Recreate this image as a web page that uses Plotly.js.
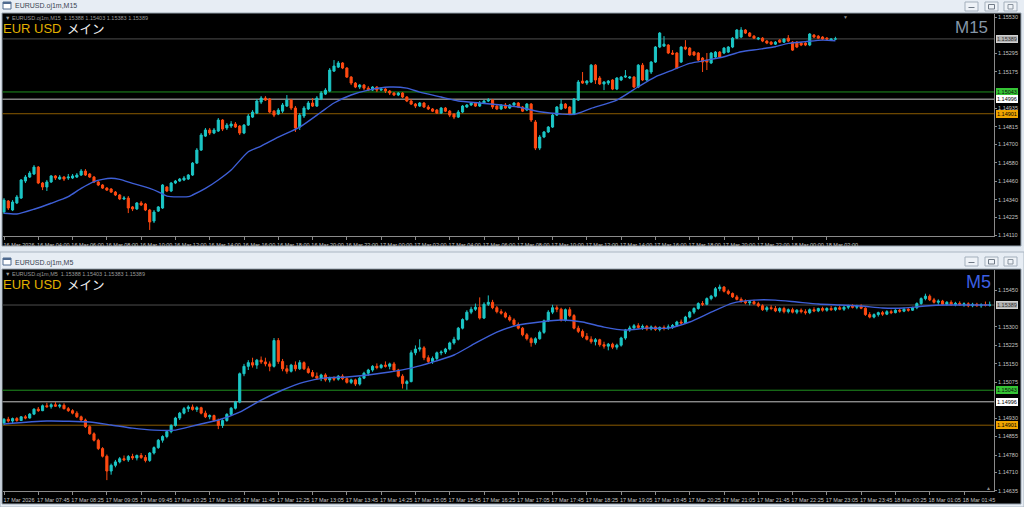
<!DOCTYPE html>
<html>
<head>
<meta charset="utf-8">
<script src="https://cdn.plot.ly/plotly-3.0.1.min.js"></script>
<style>
html,body{margin:0;padding:0;background:#e1e8f0;}
#chart{width:1024px;height:507px;}
</style>
</head>
<body>
<div id="chart"></div>
<script>
// ---------------- M15 data (16 Mar 02:00 -> 18 Mar 02:30) ----------------
const m15TickText = ["16 Mar 2026","16 Mar 04:00","16 Mar 06:00","16 Mar 08:00","16 Mar 10:00","16 Mar 12:00","16 Mar 14:00","16 Mar 16:00","16 Mar 18:00","16 Mar 20:00","16 Mar 22:00","17 Mar 00:00","17 Mar 02:00","17 Mar 04:00","17 Mar 06:00","17 Mar 08:00","17 Mar 10:00","17 Mar 12:00","17 Mar 14:00","17 Mar 16:00","17 Mar 18:00","17 Mar 20:00","17 Mar 22:00","18 Mar 00:00","18 Mar 02:00"];
const m15Open = [1.14260,1.14332,1.14273,1.14319,1.14351,1.14462,1.14488,1.14508,1.14553,1.14449,
1.14423,1.14456,1.14495,1.14475,1.14488,1.14482,1.14482,1.14488,1.14501,1.14527,
1.14508,1.14488,1.14456,1.14436,1.14416,1.14410,1.14390,1.14371,1.14345,1.14351,
1.14293,1.14280,1.14319,1.14312,1.14273,1.14201,1.14266,1.14286,1.14423,1.14397,
1.14449,1.14462,1.14469,1.14475,1.14501,1.14579,1.14664,1.14755,1.14795,1.14775,
1.14788,1.14860,1.14808,1.14821,1.14834,1.14821,1.14775,1.14827,1.14879,1.14905,
1.14977,1.15003,1.14997,1.14918,1.14899,1.14918,1.14951,1.14990,1.14938,1.14814,
1.14886,1.14932,1.14971,1.14951,1.14997,1.15029,1.15049,1.15179,1.15205,1.15232,
1.15199,1.15140,1.15101,1.15075,1.15088,1.15068,1.15055,1.15075,1.15055,1.15062,
1.15049,1.15036,1.15023,1.15036,1.15010,1.14984,1.14964,1.14951,1.14971,1.14945,
1.14932,1.14925,1.14905,1.14938,1.14918,1.14899,1.14879,1.14912,1.14945,1.14958,
1.14971,1.14951,1.14971,1.14984,1.14990,1.14951,1.14932,1.14958,1.14938,1.14958,
1.14971,1.14945,1.14925,1.14964,1.14847,1.14677,1.14749,1.14782,1.14814,1.14892,
1.14932,1.14964,1.14945,1.14899,1.14990,1.15114,1.15101,1.15108,1.15218,1.15134,
1.15095,1.15101,1.15121,1.15062,1.15121,1.15140,1.15134,1.15140,1.15075,1.15218,
1.15121,1.15173,1.15238,1.15336,1.15342,1.15349,1.15297,1.15297,1.15238,1.15336,
1.15329,1.15303,1.15297,1.15264,1.15251,1.15232,1.15271,1.15303,1.15297,1.15303,
1.15336,1.15394,1.15401,1.15447,1.15427,1.15407,1.15388,1.15394,1.15375,1.15368,
1.15355,1.15381,1.15368,1.15394,1.15368,1.15368,1.15362,1.15362,1.15349,1.15414,
1.15407,1.15401,1.15394,1.15381,1.15388];
const m15High = [1.14351,1.14338,1.14338,1.14371,1.14475,1.14501,1.14527,1.14566,1.14560,1.14456,
1.14469,1.14501,1.14501,1.14501,1.14495,1.14508,1.14508,1.14514,1.14540,1.14540,
1.14514,1.14495,1.14462,1.14442,1.14423,1.14416,1.14397,1.14377,1.14364,1.14364,
1.14299,1.14325,1.14332,1.14319,1.14280,1.14273,1.14299,1.14442,1.14429,1.14456,
1.14469,1.14482,1.14495,1.14508,1.14586,1.14677,1.14775,1.14808,1.14808,1.14808,
1.14873,1.14866,1.14840,1.14853,1.14847,1.14827,1.14834,1.14899,1.14925,1.14997,
1.15016,1.15016,1.15003,1.14925,1.14938,1.14971,1.15023,1.14997,1.14951,1.14905,
1.14951,1.14984,1.15003,1.15016,1.15049,1.15068,1.15199,1.15251,1.15245,1.15238,
1.15205,1.15147,1.15108,1.15095,1.15095,1.15081,1.15081,1.15081,1.15075,1.15068,
1.15055,1.15042,1.15042,1.15042,1.15016,1.14997,1.14971,1.14977,1.14977,1.14958,
1.14938,1.14932,1.14945,1.14945,1.14925,1.14905,1.14925,1.14958,1.14964,1.14977,
1.14977,1.14984,1.14990,1.15003,1.14997,1.14958,1.14964,1.14971,1.14964,1.14977,
1.14977,1.14951,1.14971,1.14971,1.14860,1.14762,1.14788,1.14821,1.14899,1.14951,
1.14997,1.14971,1.14951,1.15003,1.15121,1.15173,1.15121,1.15225,1.15225,1.15147,
1.15114,1.15121,1.15127,1.15140,1.15147,1.15186,1.15147,1.15147,1.15225,1.15232,
1.15192,1.15245,1.15342,1.15434,1.15407,1.15355,1.15316,1.15303,1.15342,1.15381,
1.15336,1.15310,1.15303,1.15271,1.15297,1.15303,1.15310,1.15310,1.15336,1.15342,
1.15401,1.15453,1.15466,1.15453,1.15434,1.15414,1.15401,1.15401,1.15381,1.15375,
1.15375,1.15388,1.15394,1.15414,1.15375,1.15375,1.15368,1.15368,1.15427,1.15421,
1.15414,1.15407,1.15401,1.15394,1.15403];
const m15Low = [1.14247,1.14273,1.14266,1.14312,1.14345,1.14449,1.14482,1.14501,1.14442,1.14403,
1.14397,1.14449,1.14469,1.14469,1.14462,1.14469,1.14475,1.14482,1.14495,1.14495,
1.14482,1.14449,1.14429,1.14410,1.14397,1.14384,1.14364,1.14338,1.14338,1.14253,
1.14266,1.14273,1.14299,1.14266,1.14143,1.14188,1.14260,1.14280,1.14390,1.14390,
1.14442,1.14456,1.14462,1.14469,1.14495,1.14573,1.14658,1.14749,1.14762,1.14768,
1.14782,1.14788,1.14795,1.14808,1.14808,1.14762,1.14768,1.14821,1.14873,1.14899,
1.14964,1.14984,1.14905,1.14879,1.14892,1.14905,1.14945,1.14925,1.14782,1.14795,
1.14873,1.14925,1.14945,1.14945,1.14990,1.15023,1.15042,1.15173,1.15199,1.15192,
1.15134,1.15088,1.15068,1.15062,1.15055,1.15049,1.15049,1.15042,1.15049,1.15036,
1.15023,1.15016,1.15016,1.15003,1.14977,1.14958,1.14938,1.14945,1.14938,1.14925,
1.14912,1.14899,1.14899,1.14912,1.14879,1.14866,1.14873,1.14905,1.14938,1.14951,
1.14945,1.14945,1.14964,1.14977,1.14932,1.14925,1.14925,1.14932,1.14932,1.14951,
1.14938,1.14912,1.14918,1.14847,1.14664,1.14664,1.14742,1.14775,1.14808,1.14886,
1.14925,1.14932,1.14892,1.14892,1.14984,1.15095,1.15088,1.15101,1.15095,1.15088,
1.15055,1.15088,1.15055,1.15055,1.15114,1.15134,1.15127,1.15068,1.15068,1.15114,
1.15114,1.15160,1.15232,1.15329,1.15336,1.15290,1.15284,1.15192,1.15232,1.15316,
1.15277,1.15277,1.15245,1.15173,1.15186,1.15225,1.15264,1.15264,1.15290,1.15297,
1.15329,1.15388,1.15394,1.15421,1.15401,1.15388,1.15381,1.15368,1.15355,1.15349,
1.15349,1.15362,1.15362,1.15368,1.15310,1.15329,1.15342,1.15342,1.15342,1.15394,
1.15388,1.15381,1.15381,1.15375,1.15383];
const m15Close = [1.14338,1.14286,1.14325,1.14358,1.14469,1.14488,1.14514,1.14553,1.14449,1.14423,
1.14456,1.14495,1.14482,1.14488,1.14475,1.14488,1.14495,1.14501,1.14527,1.14501,
1.14488,1.14456,1.14436,1.14416,1.14403,1.14390,1.14371,1.14345,1.14351,1.14286,
1.14280,1.14319,1.14306,1.14273,1.14195,1.14260,1.14293,1.14436,1.14397,1.14449,
1.14462,1.14475,1.14482,1.14501,1.14579,1.14664,1.14762,1.14795,1.14775,1.14795,
1.14860,1.14801,1.14827,1.14834,1.14814,1.14775,1.14827,1.14886,1.14912,1.14984,
1.15003,1.14990,1.14912,1.14892,1.14925,1.14958,1.14990,1.14938,1.14808,1.14892,
1.14938,1.14971,1.14951,1.15003,1.15036,1.15055,1.15186,1.15212,1.15232,1.15199,
1.15140,1.15101,1.15075,1.15088,1.15068,1.15055,1.15075,1.15055,1.15062,1.15049,
1.15036,1.15023,1.15036,1.15010,1.14984,1.14964,1.14951,1.14971,1.14945,1.14932,
1.14918,1.14905,1.14938,1.14918,1.14892,1.14879,1.14912,1.14951,1.14958,1.14971,
1.14951,1.14971,1.14984,1.14990,1.14945,1.14932,1.14958,1.14938,1.14958,1.14971,
1.14945,1.14918,1.14964,1.14860,1.14677,1.14749,1.14782,1.14814,1.14892,1.14945,
1.14964,1.14938,1.14899,1.14997,1.15108,1.15101,1.15114,1.15218,1.15121,1.15095,
1.15108,1.15114,1.15062,1.15134,1.15140,1.15147,1.15140,1.15075,1.15218,1.15121,
1.15186,1.15238,1.15336,1.15427,1.15355,1.15297,1.15290,1.15199,1.15336,1.15323,
1.15284,1.15284,1.15251,1.15238,1.15238,1.15297,1.15303,1.15271,1.15329,1.15336,
1.15394,1.15447,1.15447,1.15427,1.15407,1.15394,1.15394,1.15375,1.15362,1.15355,
1.15368,1.15368,1.15388,1.15375,1.15316,1.15336,1.15349,1.15349,1.15421,1.15401,
1.15394,1.15388,1.15388,1.15388,1.15389];
const m15MaBar = [0,3,7,11,15,18,21,23,25,27,30,34,36,38,43,44,47,50,53,57,60,64,69,74,77,81,85,90,94,97,102,106,111,116,120,125,130,133,137,143,148,152,156,160,164,168,172,176,180,183,187,191,194];
const m15MaVal = [1.14252,1.14247,1.14278,1.14317,1.14360,1.14414,1.14458,1.14473,1.14480,1.14473,1.14447,1.14414,1.14392,1.14364,1.14360,1.14371,1.14414,1.14469,1.14534,1.14653,1.14690,1.14749,1.14814,1.14912,1.14971,1.15023,1.15055,1.15075,1.15068,1.15042,1.15010,1.14984,1.14971,1.14958,1.14945,1.14914,1.14899,1.14897,1.14936,1.14990,1.15077,1.15142,1.15186,1.15229,1.15251,1.15273,1.15305,1.15321,1.15338,1.15360,1.15371,1.15381,1.15377];
const m15YTicks = [1.15530,1.15295,1.15175,1.14935,1.14815,1.14700,1.14580,1.14460,1.14340,1.14225,1.14110];

// ---------------- M5 data (17 Mar 07:05 -> 18 Mar 02:15) ----------------
const m5TickText = ["17 Mar 2026","17 Mar 07:45","17 Mar 08:25","17 Mar 09:05","17 Mar 09:45","17 Mar 10:25","17 Mar 11:05","17 Mar 11:45","17 Mar 12:25","17 Mar 13:05","17 Mar 13:45","17 Mar 14:25","17 Mar 15:05","17 Mar 15:45","17 Mar 16:25","17 Mar 17:05","17 Mar 17:45","17 Mar 18:25","17 Mar 19:05","17 Mar 19:45","17 Mar 20:25","17 Mar 21:05","17 Mar 21:45","17 Mar 22:25","17 Mar 23:05","17 Mar 23:45","18 Mar 00:25","18 Mar 01:05","18 Mar 01:45"];
const m5Open = [1.14910,1.14925,1.14918,1.14928,1.14920,1.14935,1.14930,1.14946,1.14966,1.14960,
1.14980,1.14976,1.14984,1.14978,1.14982,1.14968,1.14960,1.14950,1.14935,1.14922,
1.14895,1.14866,1.14840,1.14806,1.14775,1.14715,1.14738,1.14752,1.14765,1.14760,
1.14774,1.14768,1.14778,1.14770,1.14758,1.14788,1.14810,1.14840,1.14855,1.14875,
1.14900,1.14930,1.14950,1.14968,1.14975,1.14965,1.14972,1.14950,1.14935,1.14940,
1.14920,1.14900,1.14920,1.14945,1.14970,1.14995,1.15110,1.15140,1.15155,1.15145,
1.15165,1.15158,1.15150,1.15140,1.15245,1.15160,1.15130,1.15120,1.15145,1.15130,
1.15155,1.15130,1.15115,1.15100,1.15092,1.15105,1.15085,1.15092,1.15088,1.15100,
1.15090,1.15075,1.15085,1.15068,1.15092,1.15112,1.15125,1.15140,1.15135,1.15145,
1.15140,1.15150,1.15125,1.15100,1.15070,1.15078,1.15195,1.15210,1.15215,1.15175,
1.15160,1.15172,1.15195,1.15198,1.15210,1.15235,1.15250,1.15295,1.15330,1.15360,
1.15372,1.15380,1.15336,1.15392,1.15400,1.15378,1.15362,1.15356,1.15340,1.15328,
1.15310,1.15295,1.15268,1.15252,1.15236,1.15252,1.15278,1.15325,1.15360,1.15378,
1.15372,1.15328,1.15370,1.15346,1.15295,1.15282,1.15262,1.15250,1.15240,1.15248,
1.15228,1.15222,1.15230,1.15218,1.15226,1.15255,1.15288,1.15296,1.15305,1.15298,
1.15302,1.15292,1.15300,1.15290,1.15298,1.15296,1.15300,1.15306,1.15320,1.15316,
1.15340,1.15360,1.15375,1.15395,1.15392,1.15415,1.15425,1.15455,1.15462,1.15445,
1.15436,1.15422,1.15412,1.15404,1.15398,1.15402,1.15394,1.15386,1.15370,1.15378,
1.15375,1.15365,1.15375,1.15362,1.15370,1.15360,1.15368,1.15362,1.15358,1.15370,
1.15365,1.15375,1.15368,1.15375,1.15370,1.15378,1.15372,1.15380,1.15385,1.15380,
1.15384,1.15376,1.15350,1.15340,1.15350,1.15358,1.15352,1.15362,1.15358,1.15368,
1.15364,1.15372,1.15368,1.15378,1.15395,1.15415,1.15425,1.15410,1.15400,1.15405,
1.15392,1.15400,1.15390,1.15396,1.15390,1.15394,1.15386,1.15392,1.15386,1.15390,1.15388];
const m5High = [1.14930,1.14935,1.14932,1.14934,1.14938,1.14942,1.14950,1.14970,1.14975,1.14985,
1.14992,1.14990,1.14995,1.14988,1.14990,1.14975,1.14966,1.14958,1.14940,1.14928,
1.14900,1.14872,1.14846,1.14812,1.14782,1.14745,1.14760,1.14772,1.14778,1.14780,
1.14785,1.14782,1.14788,1.14780,1.14792,1.14815,1.14845,1.14860,1.14880,1.14905,
1.14935,1.14955,1.14975,1.14982,1.14985,1.14978,1.14976,1.14960,1.14945,1.14944,
1.14928,1.14925,1.14950,1.14975,1.15000,1.15115,1.15150,1.15165,1.15175,1.15170,
1.15180,1.15175,1.15160,1.15255,1.15255,1.15170,1.15145,1.15150,1.15160,1.15165,
1.15160,1.15140,1.15125,1.15115,1.15110,1.15112,1.15098,1.15100,1.15105,1.15108,
1.15095,1.15090,1.15090,1.15098,1.15118,1.15130,1.15145,1.15152,1.15150,1.15160,
1.15155,1.15158,1.15130,1.15108,1.15085,1.15205,1.15225,1.15250,1.15222,1.15185,
1.15180,1.15200,1.15205,1.15215,1.15240,1.15260,1.15300,1.15335,1.15368,1.15382,
1.15395,1.15420,1.15400,1.15428,1.15410,1.15385,1.15372,1.15362,1.15348,1.15335,
1.15318,1.15300,1.15275,1.15258,1.15258,1.15285,1.15330,1.15368,1.15390,1.15388,
1.15378,1.15375,1.15380,1.15352,1.15305,1.15290,1.15275,1.15262,1.15255,1.15252,
1.15240,1.15235,1.15236,1.15232,1.15260,1.15292,1.15305,1.15312,1.15315,1.15310,
1.15308,1.15306,1.15305,1.15302,1.15306,1.15310,1.15312,1.15325,1.15330,1.15345,
1.15365,1.15380,1.15400,1.15405,1.15420,1.15430,1.15462,1.15472,1.15466,1.15452,
1.15440,1.15430,1.15420,1.15412,1.15408,1.15410,1.15402,1.15392,1.15385,1.15388,
1.15385,1.15380,1.15382,1.15375,1.15378,1.15372,1.15375,1.15372,1.15375,1.15380,
1.15378,1.15382,1.15380,1.15385,1.15382,1.15386,1.15385,1.15390,1.15392,1.15390,
1.15392,1.15380,1.15360,1.15355,1.15362,1.15365,1.15368,1.15370,1.15372,1.15375,
1.15378,1.15380,1.15382,1.15400,1.15420,1.15435,1.15432,1.15418,1.15412,1.15410,
1.15405,1.15408,1.15402,1.15404,1.15400,1.15400,1.15398,1.15398,1.15396,1.15403,1.15403];
const m5Low = [1.14902,1.14912,1.14910,1.14915,1.14918,1.14925,1.14928,1.14942,1.14955,1.14958,
1.14972,1.14968,1.14975,1.14970,1.14965,1.14955,1.14945,1.14930,1.14918,1.14890,
1.14862,1.14835,1.14800,1.14770,1.14678,1.14700,1.14730,1.14746,1.14755,1.14752,
1.14760,1.14758,1.14764,1.14750,1.14752,1.14782,1.14805,1.14830,1.14848,1.14868,
1.14895,1.14922,1.14945,1.14955,1.14960,1.14955,1.14945,1.14930,1.14925,1.14915,
1.14885,1.14890,1.14915,1.14938,1.14965,1.14990,1.15100,1.15125,1.15135,1.15130,
1.15150,1.15140,1.15120,1.15135,1.15150,1.15120,1.15110,1.15115,1.15120,1.15125,
1.15125,1.15110,1.15095,1.15085,1.15080,1.15078,1.15075,1.15080,1.15082,1.15084,
1.15070,1.15068,1.15060,1.15062,1.15088,1.15102,1.15118,1.15128,1.15130,1.15135,
1.15128,1.15118,1.15095,1.15050,1.15045,1.15075,1.15185,1.15200,1.15165,1.15150,
1.15150,1.15165,1.15185,1.15190,1.15205,1.15228,1.15245,1.15290,1.15325,1.15352,
1.15365,1.15330,1.15332,1.15385,1.15372,1.15355,1.15350,1.15335,1.15322,1.15305,
1.15290,1.15262,1.15245,1.15220,1.15228,1.15248,1.15272,1.15320,1.15352,1.15360,
1.15322,1.15322,1.15340,1.15290,1.15275,1.15255,1.15245,1.15232,1.15225,1.15220,
1.15212,1.15205,1.15210,1.15208,1.15220,1.15248,1.15280,1.15288,1.15292,1.15288,
1.15285,1.15286,1.15284,1.15282,1.15286,1.15288,1.15292,1.15300,1.15310,1.15312,
1.15335,1.15352,1.15370,1.15385,1.15388,1.15408,1.15420,1.15445,1.15440,1.15430,
1.15418,1.15408,1.15398,1.15392,1.15388,1.15390,1.15380,1.15365,1.15362,1.15368,
1.15360,1.15358,1.15355,1.15355,1.15355,1.15352,1.15355,1.15350,1.15352,1.15360,
1.15360,1.15362,1.15362,1.15365,1.15364,1.15368,1.15365,1.15372,1.15375,1.15372,
1.15372,1.15345,1.15335,1.15335,1.15342,1.15345,1.15348,1.15352,1.15355,1.15358,
1.15360,1.15362,1.15365,1.15372,1.15390,1.15408,1.15405,1.15395,1.15390,1.15388,
1.15386,1.15385,1.15384,1.15385,1.15382,1.15380,1.15380,1.15382,1.15378,1.15383,1.15383];
const m5Close = [1.14925,1.14918,1.14928,1.14920,1.14935,1.14930,1.14946,1.14966,1.14960,1.14980,
1.14976,1.14984,1.14978,1.14982,1.14968,1.14960,1.14950,1.14935,1.14922,1.14895,
1.14866,1.14840,1.14806,1.14775,1.14715,1.14738,1.14752,1.14765,1.14760,1.14774,
1.14768,1.14778,1.14770,1.14758,1.14788,1.14810,1.14840,1.14855,1.14875,1.14900,
1.14930,1.14950,1.14968,1.14975,1.14965,1.14972,1.14950,1.14935,1.14940,1.14920,
1.14900,1.14920,1.14945,1.14970,1.14995,1.15110,1.15140,1.15155,1.15145,1.15165,
1.15158,1.15150,1.15140,1.15245,1.15160,1.15130,1.15120,1.15145,1.15130,1.15155,
1.15130,1.15115,1.15100,1.15092,1.15105,1.15085,1.15092,1.15088,1.15100,1.15090,
1.15075,1.15085,1.15068,1.15092,1.15112,1.15125,1.15140,1.15135,1.15145,1.15140,
1.15150,1.15125,1.15100,1.15070,1.15078,1.15195,1.15210,1.15215,1.15175,1.15160,
1.15172,1.15195,1.15198,1.15210,1.15235,1.15250,1.15295,1.15330,1.15360,1.15372,
1.15380,1.15336,1.15392,1.15400,1.15378,1.15362,1.15356,1.15340,1.15328,1.15310,
1.15295,1.15268,1.15252,1.15236,1.15252,1.15278,1.15325,1.15360,1.15378,1.15372,
1.15328,1.15370,1.15346,1.15295,1.15282,1.15262,1.15250,1.15240,1.15248,1.15228,
1.15222,1.15230,1.15218,1.15226,1.15255,1.15288,1.15296,1.15305,1.15298,1.15302,
1.15292,1.15300,1.15290,1.15298,1.15296,1.15300,1.15306,1.15320,1.15316,1.15340,
1.15360,1.15375,1.15395,1.15392,1.15415,1.15425,1.15455,1.15462,1.15445,1.15436,
1.15422,1.15412,1.15404,1.15398,1.15402,1.15394,1.15386,1.15370,1.15378,1.15375,
1.15365,1.15375,1.15362,1.15370,1.15360,1.15368,1.15362,1.15358,1.15370,1.15365,
1.15375,1.15368,1.15375,1.15370,1.15378,1.15372,1.15380,1.15385,1.15380,1.15384,
1.15376,1.15350,1.15340,1.15350,1.15358,1.15352,1.15362,1.15358,1.15368,1.15364,
1.15372,1.15368,1.15378,1.15395,1.15415,1.15425,1.15410,1.15400,1.15405,1.15392,
1.15400,1.15390,1.15396,1.15390,1.15394,1.15386,1.15392,1.15386,1.15390,1.15388,1.15389];
const m5MaBar = [0,10,20,25,30,35,40,45,50,55,60,65,70,75,80,85,90,95,100,105,110,115,120,125,130,135,140,145,150,155,160,165,170,175,180,185,190,195,200,205,210,215,220,225,230];
const m5MaVal = [1.14906,1.14918,1.14914,1.14902,1.14889,1.14881,1.14881,1.14902,1.14922,1.14954,1.15003,1.15044,1.15076,1.15093,1.15097,1.15105,1.15117,1.15133,1.15157,1.15186,1.15234,1.15279,1.15308,1.15320,1.15328,1.15320,1.15299,1.15287,1.15295,1.15295,1.15320,1.15360,1.15397,1.15409,1.15409,1.15401,1.15393,1.15389,1.15385,1.15377,1.15377,1.15385,1.15389,1.15389,1.15389];
const m5YTicks = [1.15450,1.15300,1.15225,1.15150,1.15075,1.14930,1.14855,1.14780,1.14710,1.14635];

// horizontal levels
const levelPrices = [1.15043, 1.14996, 1.14901];
const ohlcText = "1.15388 1.15403 1.15383 1.15389";

// ---------------- drawing ----------------
const W = 1024, H = 507;
const fx = v => v / W, fy = v => 1 - v / H;
const idx = n => Array.from({length: n}, (_, i) => i);
const tickIdx = n => Array.from({length: n}, (_, i) => i * 8);
const UP = '#1cc6c6', DN = '#ff4a12', MA = '#3e5fd6';
const levelColors = ['#1f8f1f', '#c4c4c4', '#8a5a00'];
const levelBox = [['#35c435', '#0a0a0a'], ['#ffffff', '#000000'], ['#f0a400', '#000000']];
const tickFont = {family: 'Liberation Sans Narrow, Liberation Sans, sans-serif', size: 5.5, color: '#c4c4c4'};
const fmt = v => v.toFixed(5);

function candle(o, h, l, c, xa, ya) {
  return {type: 'candlestick', x: idx(o.length), open: o, high: h, low: l, close: c,
    xaxis: xa, yaxis: ya, whiskerwidth: 0, hoverinfo: 'skip',
    increasing: {line: {color: UP, width: 1}, fillcolor: UP},
    decreasing: {line: {color: DN, width: 1}, fillcolor: DN}};
}
function maLine(xs, ys, xa, ya) {
  return {type: 'scatter', mode: 'lines', x: xs, y: ys, xaxis: xa, yaxis: ya, hoverinfo: 'skip',
    line: {color: MA, width: 1.4, shape: 'spline', smoothing: 0.6}};
}

const traces = [
  candle(m15Open, m15High, m15Low, m15Close, 'x', 'y'),
  maLine(m15MaBar, m15MaVal, 'x', 'y'),
  candle(m5Open, m5High, m5Low, m5Close, 'x2', 'y2'),
  maLine(m5MaBar, m5MaVal, 'x2', 'y2')
];

const xDom = [fx(2.5), fx(994)];
const xRange = [-0.35, 231];
function xAxis(ticktext, anchor) {
  return {domain: xDom, range: xRange, anchor: anchor, showgrid: false, zeroline: false,
    showline: true, linecolor: '#8a8a8a', linewidth: 1, ticks: 'outside', ticklen: 3, tickcolor: '#8a8a8a',
    tickmode: 'array', tickvals: tickIdx(ticktext.length), ticktext: ticktext, tickfont: tickFont,
    tickangle: 0, ticklabelshift: 15, ticklabelstandoff: 0, fixedrange: true};
}
function yAxis(dom, range, ticks, anchor) {
  return {domain: dom, range: range, anchor: anchor, side: 'right', showgrid: false, zeroline: false,
    showline: true, linecolor: '#8a8a8a', linewidth: 1, ticks: 'outside', ticklen: 2, tickcolor: '#8a8a8a',
    tickmode: 'array', tickvals: ticks, ticktext: ticks.map(fmt), tickfont: tickFont, fixedrange: true};
}

const shapes = [];
const rectPx = (x0, y0, x1, y1, fill, line) => shapes.push({type: 'rect', xref: 'paper', yref: 'paper', layer: 'below',
  x0: fx(x0), x1: fx(x1), y0: fy(y1), y1: fy(y0), fillcolor: fill, line: line || {width: 0}});
// window frames
rectPx(0, 0, 1024, 13, '#e7edf4');
rectPx(2, 13, 1021, 246, '#000000', {color: '#96a2ae', width: 1});
rectPx(0, 252, 1024, 507, '#e7edf4', {color: '#aab6c2', width: 1});
rectPx(2, 269, 1021, 504, '#000000', {color: '#96a2ae', width: 1});
// title bar icons
[[3, 2], [3, 258]].forEach(([x, y]) => {
  rectPx(x, y, x + 8, y + 7, '#ffffff', {color: '#4f6a8f', width: 1});
  rectPx(x, y, x + 8, y + 2, '#4f6a8f');
});
// window buttons
[[2], [257]].forEach(([y]) => {
  [[965, 978], [985, 998], [1004, 1017]].forEach(([a, b]) => rectPx(a, y, b, y + 9, '#eef2f7', {color: '#a3afbc', width: 1}));
  rectPx(968.5, y + 5, 974.5, y + 6, '#707a86');
  rectPx(988.5, y + 2.5, 994.5, y + 7, 'rgba(0,0,0,0)', {color: '#707a86', width: 1});
  rectPx(1008, y + 2.5, 1013, y + 7, 'rgba(0,0,0,0)', {color: '#8a949f', width: 1});
});
// horizontal price levels
[['y'], ['y2']].forEach(([ya], p) => {
  const last = p === 0 ? m15Close[m15Close.length - 1] : m5Close[m5Close.length - 1];
  shapes.push({type: 'line', xref: 'x' + (p ? '2' : '') + ' domain', yref: ya, layer: 'below',
    x0: 0, x1: 1, y0: last, y1: last, line: {color: '#4e4e4e', width: 1}});
  levelPrices.forEach((v, i) => shapes.push({type: 'line', xref: 'x' + (p ? '2' : '') + ' domain', yref: ya, layer: 'below',
    x0: 0, x1: 1, y0: v, y1: v, line: {color: levelColors[i], width: 1}}));
});

const annotations = [];
const txt = (x, y, text, size, color, family, anchor, extra) => annotations.push(Object.assign({
  xref: 'paper', yref: 'paper', x: fx(x), y: fy(y), text: text, showarrow: false,
  xanchor: anchor || 'left', yanchor: 'middle', borderpad: 0,
  font: {size: size, color: color, family: family || 'Liberation Sans, sans-serif'}}, extra || {}));

// top window
txt(14, 6.5, 'EURUSD.oj1m,M15', 7, '#3a4452');
txt(4, 18.5, '▼ EURUSD.oj1m,M15  ' + ohlcText, 5.5, '#9a9a9a');
txt(2, 28.5, 'EUR USD', 13, '#e2b000');
txt(66, 28.5, 'メイン', 12.5, '#f2f2f2', 'Noto Sans CJK JP, sans-serif');
txt(989, 27.5, 'M15', 17, '#8596a8', null, 'right');
txt(845, 16.5, '▼', 5, '#8a8a8a', null, 'center');
// bottom window
txt(14, 262.5, 'EURUSD.oj1m,M5', 7, '#3a4452');
txt(4, 274, '▼ EURUSD.oj1m,M5  ' + ohlcText, 5.5, '#9a9a9a');
txt(2, 284.5, 'EUR USD', 13, '#e2b000');
txt(66, 284.5, 'メイン', 12.5, '#f2f2f2', 'Noto Sans CJK JP, sans-serif');
txt(992, 282, 'M5', 18, '#3c5fe2', null, 'right');
txt(988, 487.5, '▲', 5, '#8a8a8a', null, 'center');

// price boxes on the right axis
[['y'], ['y2']].forEach(([ya], p) => {
  const last = p === 0 ? m15Close[m15Close.length - 1] : m5Close[m5Close.length - 1];
  const box = (v, bg, fg, bc) => annotations.push({xref: 'paper', yref: ya, x: fx(995.5), y: v,
    xanchor: 'left', yanchor: 'middle', text: fmt(v), showarrow: false, bgcolor: bg, bordercolor: bc, borderwidth: 1, borderpad: 0,
    font: {family: 'Liberation Sans Narrow, Liberation Sans, sans-serif', size: 5.5, color: fg}});
  box(last, '#b4b4b4', '#303030', '#d0d0d0');
  levelPrices.forEach((v, i) => box(v, levelBox[i][0], levelBox[i][1], levelBox[i][0]));
});

const layout = {
  width: W, height: H, margin: {l: 0, r: 0, t: 0, b: 0},
  paper_bgcolor: '#e1e8f0', plot_bgcolor: 'rgba(0,0,0,0)', showlegend: false,
  font: {family: 'Liberation Sans, sans-serif'},
  xaxis: xAxis(m15TickText, 'y'),
  yaxis: yAxis([fy(236), fy(14)], [1.141035, 1.155515], m15YTicks, 'x'),
  xaxis2: xAxis(m5TickText, 'y2'),
  yaxis2: yAxis([fy(491), fy(270)], [1.146338, 1.155312], m5YTicks, 'x2'),
  shapes: shapes, annotations: annotations
};
layout.xaxis.rangeslider = {visible: false};
layout.xaxis2.rangeslider = {visible: false};

Plotly.newPlot('chart', traces, layout, {staticPlot: true, displayModeBar: false});
</script>
</body>
</html>
